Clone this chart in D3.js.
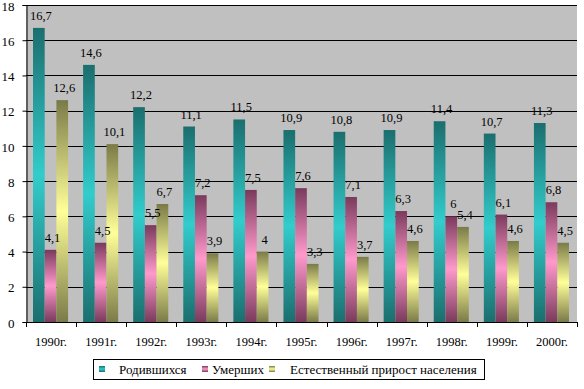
<!DOCTYPE html>
<html>
<head>
<meta charset="utf-8">
<script src="https://cdn.jsdelivr.net/npm/d3@7"></script>
<style>
body { margin: 0; background: #fff; }
svg text { font-family: "Liberation Serif", "Times New Roman", "DejaVu Serif", serif !important; fill: #000; }
</style>
</head>
<body>
<div id="chart"></div>
<script>
"use strict";

const years = ["1990г.", "1991г.", "1992г.", "1993г.", "1994г.", "1995г.", "1996г.", "1997г.", "1998г.", "1999г.", "2000г."];
const born = [16.7, 14.6, 12.2, 11.1, 11.5, 10.9, 10.8, 10.9, 11.4, 10.7, 11.3];
const died = [4.1, 4.5, 5.5, 7.2, 7.5, 7.6, 7.1, 6.3, 6, 6.1, 6.8];
const growth = [12.6, 10.1, 6.7, 3.9, 4, 3.3, 3.7, 4.6, 5.4, 4.6, 4.5];
const seriesNames = ["Родившихся", "Умерших", "Естественный прирост населения"];
const yTicks = [0, 2, 4, 6, 8, 10, 12, 14, 16, 18];

const series = [born, died, growth];
const palette = [
    { dark: "#1b6e6e", light: "#33cccc" },
    { dark: "#7a3a5c", light: "#ff99cc" },
    { dark: "#7a7a48", light: "#ffff99" },
];

const W = 584, H = 389;
const LEFT = 26, RIGHT = 577, TOP = 5, BOTTOM = 322;

const svg = d3.select("#chart").append("svg")
    .attr("width", W)
    .attr("height", H);

const defs = svg.append("defs");
palette.forEach((c, i) => {
    const g = defs.append("linearGradient")
        .attr("id", `grad${i}`)
        .attr("x1", 0).attr("y1", 0).attr("x2", 0).attr("y2", 1);
    g.append("stop").attr("offset", "0%").attr("stop-color", c.dark);
    g.append("stop").attr("offset", "50%").attr("stop-color", c.light);
    g.append("stop").attr("offset", "100%").attr("stop-color", c.dark);
});

const x = d3.scaleBand()
    .domain(years)
    .range([LEFT, RIGHT])
    .paddingInner(0)
    .paddingOuter(0);

const x1 = d3.scaleBand()
    .domain([0, 1, 2])
    .range([7, x.bandwidth() - 8]);

const y = d3.scaleLinear()
    .domain([0, 18])
    .range([BOTTOM, TOP]);

// plot background
svg.append("rect")
    .attr("x", LEFT).attr("y", TOP)
    .attr("width", RIGHT - LEFT).attr("height", BOTTOM - TOP)
    .attr("fill", "#c0c0c0");

// gridlines
svg.append("g")
    .selectAll("line")
    .data(yTicks.filter(d => d > 0))
    .join("line")
    .attr("x1", LEFT).attr("x2", RIGHT)
    .attr("y1", d => Math.round(y(d)) + 0.5)
    .attr("y2", d => Math.round(y(d)) + 0.5)
    .attr("stroke", "#000");

// bars
const groups = svg.append("g")
    .selectAll("g")
    .data(years)
    .join("g")
    .attr("transform", d => `translate(${x(d)},0)`);

groups.selectAll("rect")
    .data((d, i) => series.map((s, k) => ({ k: k, v: s[i] })))
    .join("rect")
    .attr("x", d => x1(d.k))
    .attr("y", d => y(d.v))
    .attr("width", x1.bandwidth())
    .attr("height", d => BOTTOM - y(d.v))
    .attr("fill", d => `url(#grad${d.k})`);

groups.selectAll("text")
    .data((d, i) => series.map((s, k) => ({ k: k, v: s[i] })))
    .join("text")
    .attr("x", d => x1(d.k) + x1.bandwidth() / 2 + 2)
    .attr("y", d => y(d.v) - 8)
    .attr("text-anchor", "middle")
    .attr("font-size", 12.5)
    .text(d => String(d.v).replace(".", ","));

// axes
const yaxis = svg.append("g")
    .attr("transform", `translate(${LEFT + 0.5},0)`)
    .call(d3.axisLeft(y).tickValues(yTicks).tickSize(4).tickPadding(8));
yaxis.select(".domain").attr("stroke", "#000");
yaxis.selectAll("text").attr("font-size", 13).attr("dy", "0.4em");

const xaxis = svg.append("g")
    .attr("transform", `translate(0,${BOTTOM + 0.5})`)
    .call(d3.axisBottom(x).tickSize(0).tickPadding(15));
xaxis.select(".domain").remove();
xaxis.selectAll("text").attr("font-size", 12.5);

svg.append("line")
    .attr("x1", LEFT).attr("x2", RIGHT + 1)
    .attr("y1", BOTTOM + 0.5).attr("y2", BOTTOM + 0.5)
    .attr("stroke", "#000");

svg.append("g")
    .selectAll("line")
    .data(years.concat(["end"]))
    .join("line")
    .attr("x1", (d, i) => Math.round(LEFT + i * x.step()) + 0.5)
    .attr("x2", (d, i) => Math.round(LEFT + i * x.step()) + 0.5)
    .attr("y1", BOTTOM).attr("y2", BOTTOM + 5)
    .attr("stroke", "#000");

// legend
const legend = svg.append("g");
legend.append("rect")
    .attr("x", 93.5).attr("y", 359.5)
    .attr("width", 391).attr("height", 20)
    .attr("fill", "#fff")
    .attr("stroke", "#000");

const legendX = [99, 202, 269];
const legendTextX = [119, 212, 290];
seriesNames.forEach((name, i) => {
    legend.append("rect")
        .attr("x", legendX[i]).attr("y", 366)
        .attr("width", 6).attr("height", 6)
        .attr("fill", `url(#grad${i})`);
    legend.append("text")
        .attr("x", legendTextX[i]).attr("y", 374)
        .attr("font-size", 13)
        .text(name);
});
</script>
</body>
</html>
